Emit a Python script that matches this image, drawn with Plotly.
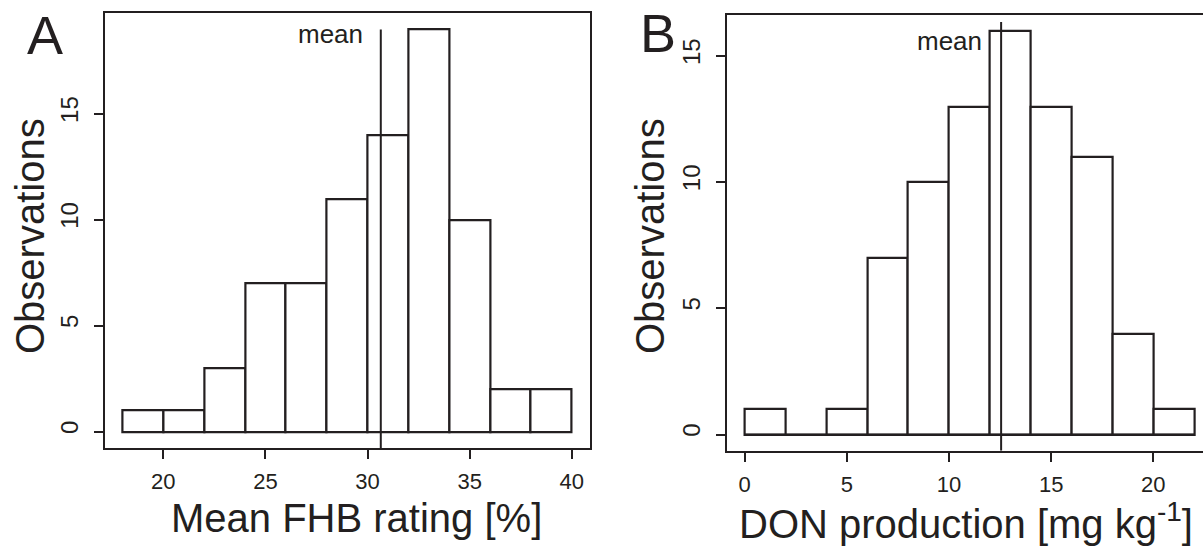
import plotly.graph_objects as go

# ---- data ----
fhb_bin_left = [18, 20, 22, 24, 26, 28, 30, 32, 34, 36, 38]
fhb_counts = [1, 1, 3, 7, 7, 11, 14, 19, 10, 2, 2]
fhb_mean = 30.65

don_bin_left = [0, 2, 4, 6, 8, 10, 12, 14, 16, 18, 20]
don_counts = [1, 0, 1, 7, 10, 13, 16, 13, 11, 4, 1]
don_mean = 12.55

bin_width = 2
fhb_xticks = [20, 25, 30, 35, 40]
don_xticks = [0, 5, 10, 15, 20]
fhb_yticks = [0, 5, 10, 15]
don_yticks = [0, 5, 10, 15]

INK = "#231f20"
FONT = "Liberation Sans, Arial, Helvetica, sans-serif"
W, H = 1203, 546


def px_x(p):
    return p / W


def px_y(p):
    return 1 - p / H


fig = go.Figure()

fig.add_trace(go.Bar(
    x=[b + bin_width / 2 for b in fhb_bin_left], y=fhb_counts, width=bin_width,
    marker=dict(color="white", line=dict(color=INK, width=2.2)),
    xaxis="x", yaxis="y", showlegend=False, hoverinfo="x+y"))
fig.add_trace(go.Bar(
    x=[b + bin_width / 2 for b in don_bin_left], y=don_counts, width=bin_width,
    marker=dict(color="white", line=dict(color=INK, width=2.2)),
    xaxis="x2", yaxis="y2", showlegend=False, hoverinfo="x+y"))
# baseline of the DON histogram (covers the empty bin)
fig.add_trace(go.Scatter(
    x=[don_bin_left[0], don_bin_left[-1] + bin_width], y=[0, 0], mode="lines",
    line=dict(color=INK, width=2.2), xaxis="x2", yaxis="y2",
    showlegend=False, hoverinfo="skip"))

axis_common = dict(
    showline=True, linecolor=INK, linewidth=2, ticks="outside", ticklen=9,
    tickwidth=2, tickcolor=INK, showgrid=False, zeroline=False,
    tickfont=dict(family=FONT, size=22, color=INK),
)
yfont = dict(family=FONT, size=24, color=INK)

fig.update_layout(
    width=W, height=H, margin=dict(l=0, r=0, t=0, b=0),
    paper_bgcolor="white", plot_bgcolor="white", bargap=0,
    xaxis=dict(axis_common, domain=[px_x(104.5), px_x(589.7)], range=[17.12, 40.88],
               tickvals=fhb_xticks, mirror=True, anchor="y", ticklabelstandoff=4),
    yaxis=dict(axis_common, domain=[px_y(448), px_y(13.3)], range=[-0.76, 19.76],
               tickvals=fhb_yticks, tickangle=-90, mirror=True, anchor="x",
               tickfont=yfont, ticklabelshift=-1, ticklabelstandoff=6),
    xaxis2=dict(axis_common, domain=[px_x(726.7), 1.0], range=[-0.88, 22.43],
                tickvals=don_xticks, mirror=True, anchor="y2", ticklabelstandoff=4),
    yaxis2=dict(axis_common, domain=[px_y(450.7), px_y(15)], range=[-0.64, 16.64],
                tickvals=don_yticks, tickangle=-90, mirror=False, anchor="x2",
                tickfont=yfont, ticklabelshift=-1, ticklabelstandoff=6),
)

# mean lines
fig.add_shape(type="line", xref="x", yref="y", x0=fhb_mean, x1=fhb_mean,
              y0=-0.76, y1=19, line=dict(color=INK, width=2))
fig.add_shape(type="line", xref="x2", yref="y2", x0=don_mean, x1=don_mean,
              y0=-0.64, y1=16.36, line=dict(color=INK, width=2))

ann = []
ann.append(dict(text="mean", xref="x", yref="y", x=29.87, y=18.8, xanchor="right",
                yanchor="middle", showarrow=False, font=dict(family=FONT, size=26, color=INK)))
ann.append(dict(text="mean", xref="x2", yref="y2", x=11.7, y=15.6, xanchor="right",
                yanchor="middle", showarrow=False, font=dict(family=FONT, size=26, color=INK)))
# panel letters
ann.append(dict(text="A", xref="paper", yref="paper", x=px_x(45), y=px_y(34.5),
                xanchor="center", yanchor="middle", showarrow=False,
                font=dict(family=FONT, size=54, color=INK)))
ann.append(dict(text="B", xref="paper", yref="paper", x=px_x(658), y=px_y(33),
                xanchor="center", yanchor="middle", showarrow=False,
                font=dict(family=FONT, size=54, color=INK)))
# axis titles
ann.append(dict(text="Mean FHB rating [%]", xref="paper", yref="paper", x=px_x(356), y=px_y(518),
                xanchor="center", yanchor="middle", showarrow=False,
                font=dict(family=FONT, size=40, color=INK)))
ann.append(dict(text="DON production [mg kg<sup>-1</sup>]", xref="paper", yref="paper",
                x=px_x(966), y=px_y(521), xanchor="center", yanchor="middle", showarrow=False,
                font=dict(family=FONT, size=40, color=INK)))
ann.append(dict(text="Observations", xref="paper", yref="paper", x=px_x(30), y=px_y(236),
                xanchor="center", yanchor="middle", textangle=-90, showarrow=False,
                font=dict(family=FONT, size=40, color=INK)))
ann.append(dict(text="Observations", xref="paper", yref="paper", x=px_x(650), y=px_y(236),
                xanchor="center", yanchor="middle", textangle=-90, showarrow=False,
                font=dict(family=FONT, size=40, color=INK)))
fig.update_layout(annotations=ann)

fig.write_html("out.html")
